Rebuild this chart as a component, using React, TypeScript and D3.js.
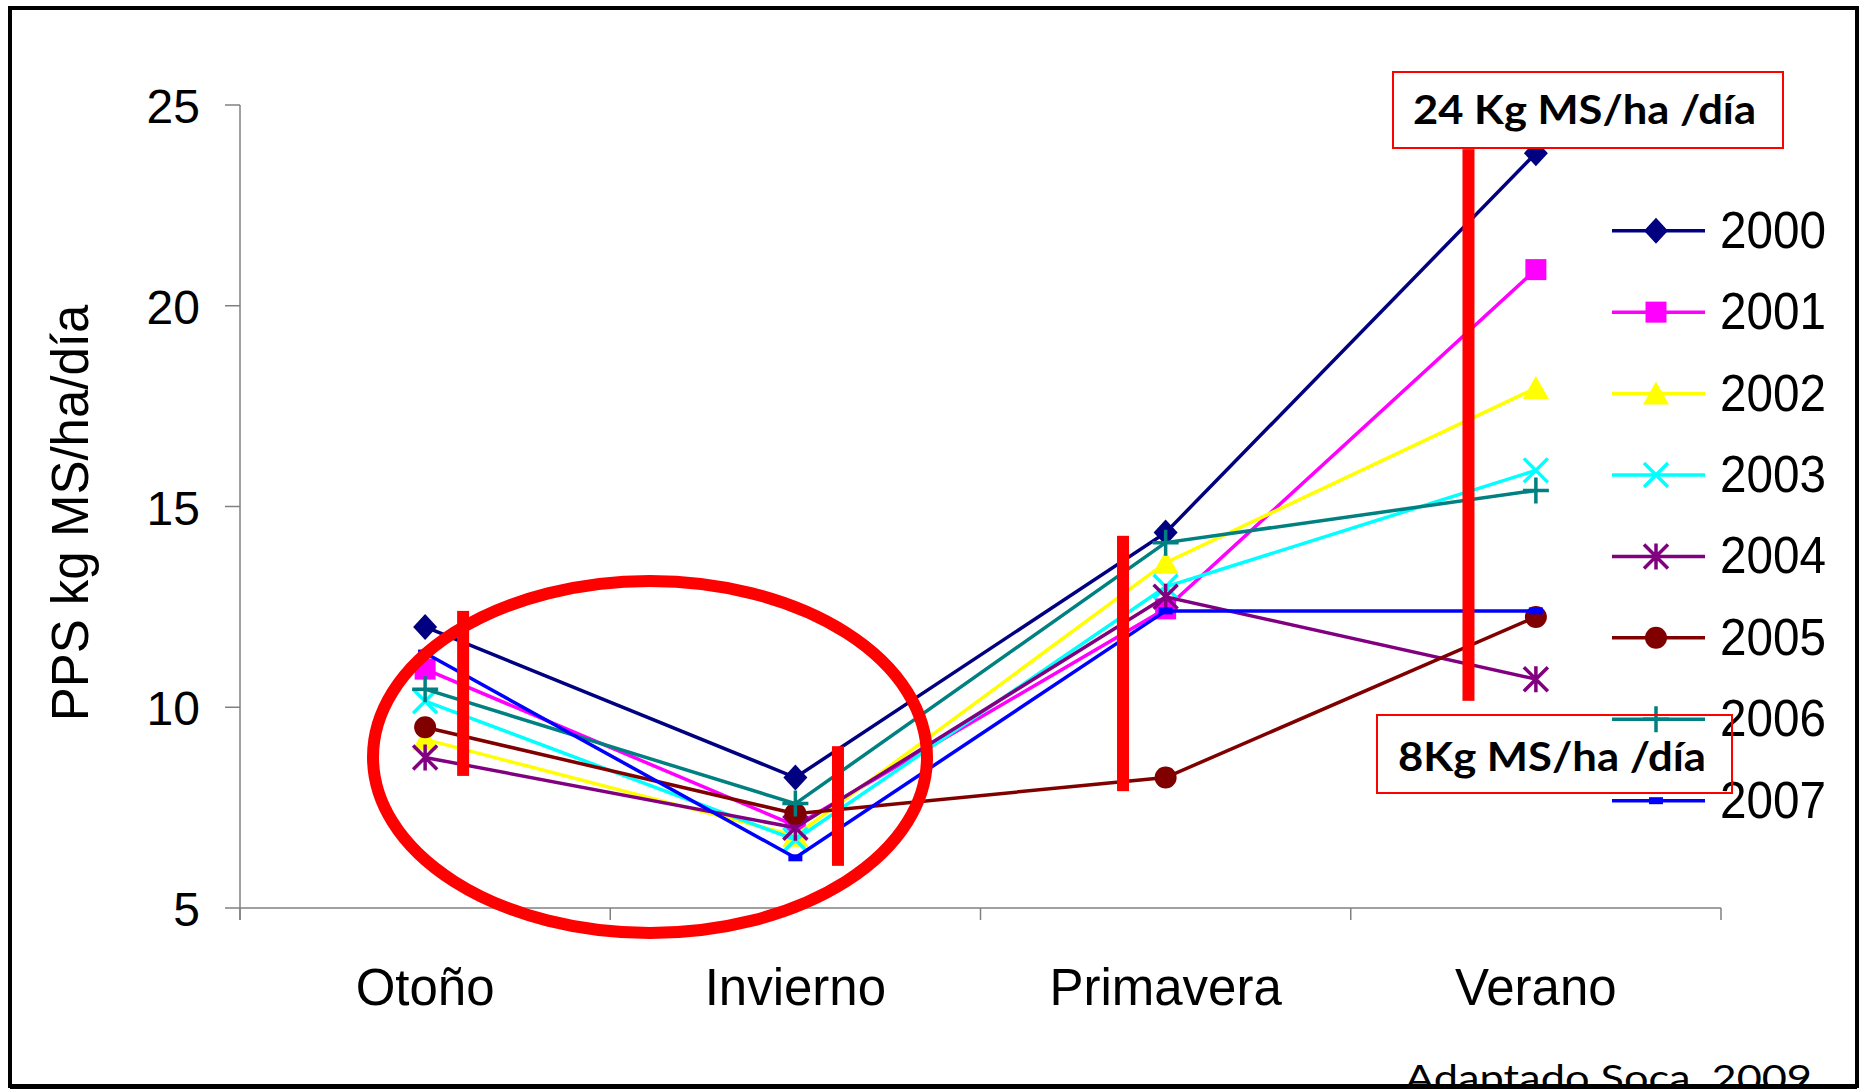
import * as d3 from 'd3';

const seasons = ['Otoño', 'Invierno', 'Primavera', 'Verano'];
const years = ['2000', '2001', '2002', '2003', '2004', '2005', '2006', '2007'];
const v2000 = [12.0, 8.25, 14.35, 23.8];
const v2001 = [10.95, 7.05, 12.45, 20.9];
const v2002 = [9.2, 6.8, 13.6, 17.95];
const v2003 = [10.15, 6.7, 13.0, 15.9];
const v2004 = [8.75, 7.0, 12.75, 10.7];
const v2005 = [9.5, 7.35, 8.25, 12.25];
const v2006 = [10.45, 7.6, 14.1, 15.4];
const v2007 = [11.35, 6.25, 12.4, 12.4];
const yTicks = [5, 10, 15, 20, 25];

// red range bars drawn over the chart: season, offset from centre, from/to value
const rangeBars = [
  { season: 'Otoño', dx: 38, from: 8.29, to: 12.4 },
  { season: 'Invierno', dx: 42.6, from: 6.05, to: 9.03 },
  { season: 'Primavera', dx: -42.6, from: 7.91, to: 14.27 },
  { season: 'Verano', dx: -67.4, from: 10.16, to: 23.9 },
];

const colors = ['#000080', '#FF00FF', '#FFFF00', '#00FFFF', '#800080', '#800000', '#008080', '#0000FF'];
const shapes = ['diamond', 'square', 'triangle', 'x', 'star', 'circle', 'plus', 'dash'];

const series = [v2000, v2001, v2002, v2003, v2004, v2005, v2006, v2007].map((values, i) => ({
  name: years[i],
  values,
  color: colors[i],
  shape: shapes[i],
}));

const W = 1864;
const H = 1089;
const left = 240;
const right = 1721;
const top = 105;
const bottom = 908;

function Marker({ shape, color }: { shape: string; color: string }) {
  switch (shape) {
    case 'diamond':
      return <path d="M0,-13L12,0L0,13L-12,0Z" fill={color} />;
    case 'square':
      return <rect x={-10.5} y={-10.5} width={21} height={21} fill={color} />;
    case 'triangle':
      return <path d="M0,-12L13,11L-13,11Z" fill={color} />;
    case 'x':
      return <path d="M-12,-12L12,12M-12,12L12,-12" stroke={color} strokeWidth={3.5} fill="none" />;
    case 'star':
      return <path d="M-12,-12L12,12M-12,12L12,-12M0,-13L0,13" stroke={color} strokeWidth={3.5} fill="none" />;
    case 'circle':
      return <circle r={11} fill={color} />;
    case 'plus':
      return <path d="M-13,0L13,0M0,-13L0,13" stroke={color} strokeWidth={3.5} fill="none" />;
    default:
      return <rect x={-7} y={-3.5} width={14} height={7} fill={color} />;
  }
}

export default function App() {
  const x = d3.scaleBand<string>().domain(seasons).range([left, right]);
  const y = d3.scaleLinear().domain([5, 25]).range([bottom, top]);
  const cx = (s: string) => (x(s) || 0) + x.bandwidth() / 2;
  const line = d3
    .line<number>()
    .x((_, i) => cx(seasons[i]))
    .y((d) => y(d));

  const legendY = d3.scaleLinear().domain([0, 7]).range([230.7, 800.7]);
  const boundaries = d3.range(seasons.length + 1).map((i) => left + i * x.bandwidth());

  return (
    <svg width={W} height={H} style={{ position: 'absolute', left: 0, top: 0, background: '#fff' }}>
      <rect x={0} y={0} width={W} height={H} fill="#fff" />
      <rect x={10} y={8} width={1847} height={1078} fill="none" stroke="#000" strokeWidth={4} />

      {/* axes */}
      <g stroke="#808080" strokeWidth={1.5}>
        <line x1={left} x2={left} y1={top} y2={bottom + 12} />
        <line x1={left} x2={right} y1={bottom} y2={bottom} />
        {yTicks.map((t) => (
          <line key={t} x1={left - 15} x2={left} y1={y(t)} y2={y(t)} />
        ))}
        {boundaries.map((b, i) => (
          <line key={i} x1={b} x2={b} y1={bottom} y2={bottom + 12} />
        ))}
      </g>
      <g fontFamily="'Liberation Sans', Arial, sans-serif" fill="#000">
        {yTicks.map((t) => (
          <text key={t} x={200} y={y(t) + 18} fontSize={48} textAnchor="end">
            {t}
          </text>
        ))}
        {seasons.map((s) => (
          <text key={s} x={cx(s)} y={1005} fontSize={51} textAnchor="middle">
            {s}
          </text>
        ))}
        <text transform="translate(88,513) rotate(-90)" fontSize={51} textAnchor="middle">
          PPS kg MS/ha/día
        </text>
      </g>

      {/* series */}
      {series.map((s) => (
        <g key={s.name}>
          <path d={line(s.values) || ''} fill="none" stroke={s.color} strokeWidth={3.5} />
          {s.values.map((v, i) => (
            <g key={i} transform={`translate(${cx(seasons[i])},${y(v)})`}>
              <Marker shape={s.shape} color={s.color} />
            </g>
          ))}
        </g>
      ))}

      {/* legend */}
      {series.map((s, i) => (
        <g key={s.name} transform={`translate(0,${legendY(i)})`}>
          <line x1={1612} x2={1705} y1={0} y2={0} stroke={s.color} strokeWidth={3.5} />
          <g transform="translate(1656,0)">
            <Marker shape={s.shape} color={s.color} />
          </g>
          <text
            x={1720}
            y={17}
            fontSize={51}
            fontFamily="'Liberation Sans', Arial, sans-serif"
            textLength={106}
            lengthAdjust="spacingAndGlyphs"
          >
            {s.name}
          </text>
        </g>
      ))}

      {/* annotations */}
      <ellipse cx={650} cy={757} rx={277} ry={176} fill="none" stroke="#FF0000" strokeWidth={12} />
      {rangeBars.map((b) => (
        <rect
          key={b.season}
          x={cx(b.season) + b.dx - 6}
          y={y(b.to)}
          width={12}
          height={y(b.from) - y(b.to)}
          fill="#FF0000"
        />
      ))}

      <rect x={1393} y={72} width={390} height={76} fill="#fff" stroke="#FF0000" strokeWidth={2} />
      <text
        x={1413}
        y={124}
        fontFamily="Lato, 'Open Sans', sans-serif"
        fontWeight="bold"
        fontSize={41}
        textLength={343}
        lengthAdjust="spacingAndGlyphs"
      >
        24 Kg MS/ha /día
      </text>
      <rect x={1377} y={715} width={355} height={78} fill="none" stroke="#FF0000" strokeWidth={2} />
      <text
        x={1398}
        y={771}
        fontFamily="Lato, 'Open Sans', sans-serif"
        fontWeight="bold"
        fontSize={41}
        textLength={308}
        lengthAdjust="spacingAndGlyphs"
      >
        8Kg MS/ha /día
      </text>

      <text
        x={1405}
        y={1091}
        fontFamily="Lato, 'Open Sans', sans-serif"
        fontSize={36}
        textLength={407}
        lengthAdjust="spacingAndGlyphs"
      >
        Adaptado Soca, 2009
      </text>
      <line x1={10} x2={1857} y1={1087} y2={1087} stroke="#000" strokeWidth={4} />
    </svg>
  );
}
